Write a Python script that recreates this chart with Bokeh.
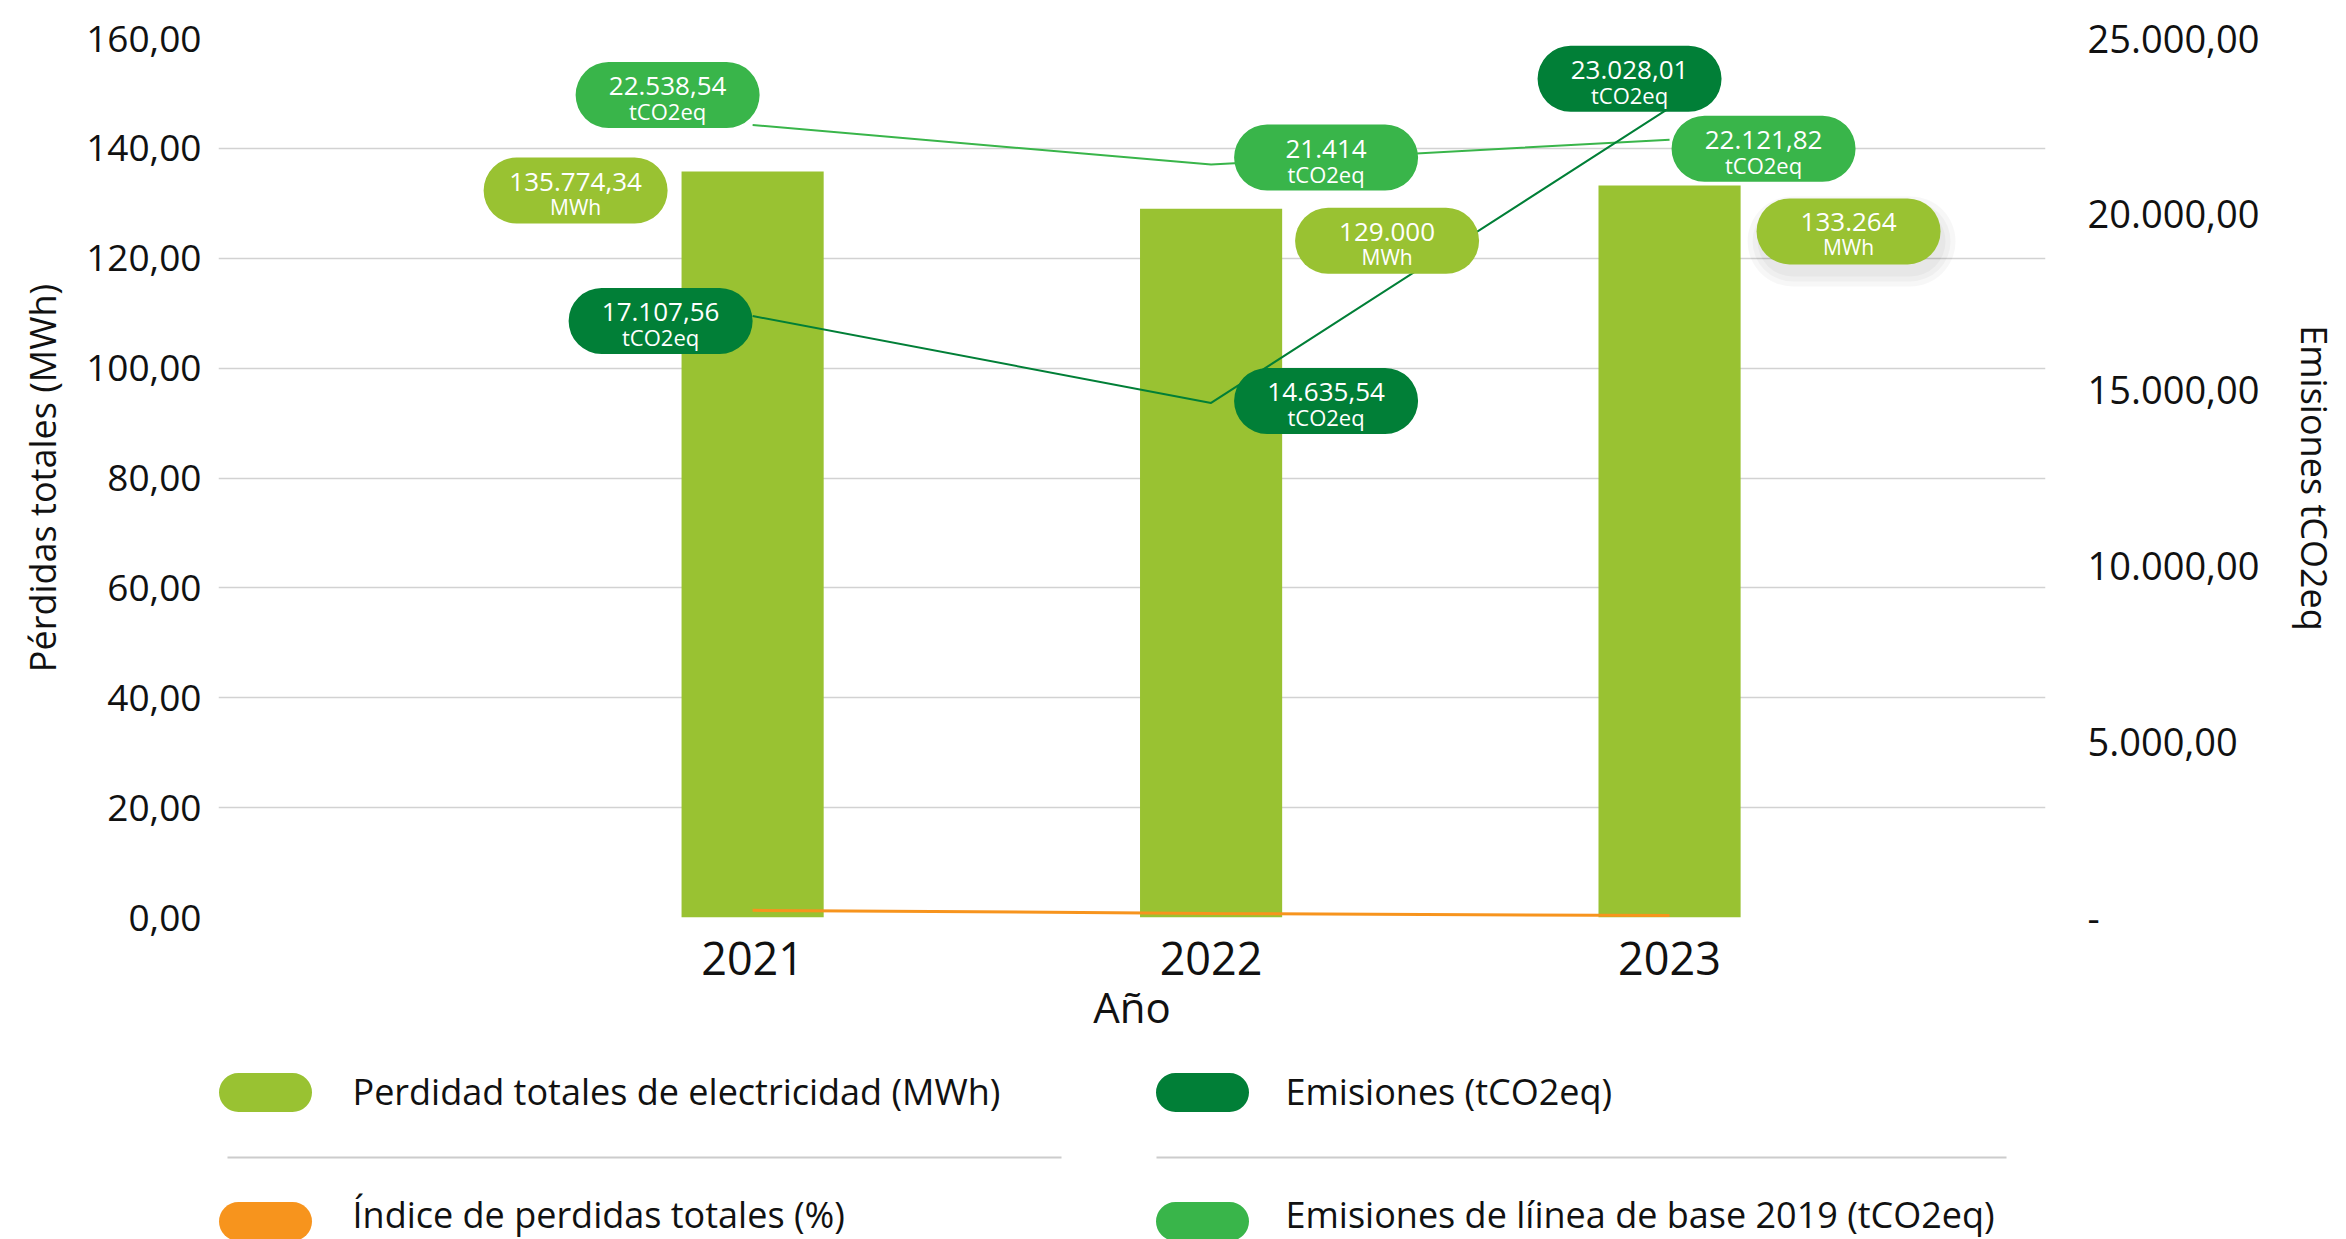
from bokeh.plotting import figure
from bokeh.models import Range1d, LinearAxis, FixedTicker
from bokeh.layouts import column
from bokeh.embed import file_html
from bokeh.resources import INLINE
from bokeh.core.properties import value

# ---------------- data ----------------
years = ["2021", "2022", "2023"]
perdidas_mwh = [135.77434, 129.000, 133.264]        # left axis (Pérdidas totales)
indice_pct = [1.3, 0.75, 0.35]                       # Índice de perdidas totales (%)
emisiones = [17107.56, 14635.54, 23028.01]           # right axis (tCO2eq)
emis_base_2019 = [22538.54, 21414.0, 22121.82]       # right axis (tCO2eq)

perdidas_labels = ["135.774,34", "129.000", "133.264"]
emisiones_labels = ["17.107,56", "14.635,54", "23.028,01"]
base_labels = ["22.538,54", "21.414", "22.121,82"]

left_ticks = [0, 20, 40, 60, 80, 100, 120, 140, 160]
left_tick_labels = ["0,00", "20,00", "40,00", "60,00", "80,00", "100,00", "120,00", "140,00", "160,00"]
right_ticks = [0, 5000, 10000, 15000, 20000, 25000]
right_tick_labels = ["-", "5.000,00", "10.000,00", "15.000,00", "20.000,00", "25.000,00"]

legend_labels = ["Perdidad totales de electricidad (MWh)", "Emisiones (tCO2eq)",
                 "Índice de perdidas totales (%)", "Emisiones de líinea de base 2019 (tCO2eq)"]

# ---------------- style ----------------
C_BAR = "#99c232"
C_EMIS = "#017f37"
C_BASE = "#39b54a"
C_IDX = "#f7941d"
C_GRID = "#d2d2d2"
C_TXT = "#111111"
FONT = "Open Sans"

FW, FH = 1827, 879
BL, BR, BT, BB = 218, 301, 38, 150
XMIN, XMAX = -1.165, 2.82
YMAX_L, YMAX_R = 160, 25000
px_x = FW / (XMAX - XMIN)
px_l = FH / YMAX_L
px_r = FH / YMAX_R

xs = list(range(len(years)))

p = figure(frame_width=FW, frame_height=FH,
           x_range=Range1d(XMIN, XMAX), y_range=Range1d(0, YMAX_L),
           output_backend="svg", toolbar_location=None,
           min_border_left=BL, min_border_right=BR, min_border_top=BT, min_border_bottom=BB)
p.extra_y_ranges = {"emis": Range1d(0, YMAX_R)}
p.outline_line_color = None
p.background_fill_color = "white"
p.border_fill_color = "white"

# grid
p.xgrid.visible = False
p.ygrid.ticker = FixedTicker(ticks=left_ticks)
p.ygrid.grid_line_color = C_GRID
p.ygrid.grid_line_width = 1.5

# left axis
yl = p.yaxis[0]
yl.ticker = FixedTicker(ticks=left_ticks)
yl.major_label_overrides = {t: s for t, s in zip(left_ticks, left_tick_labels)}
yl.axis_label = "Pérdidas totales (MWh)"

# bottom axis
xa = p.xaxis[0]
xa.ticker = FixedTicker(ticks=xs)
xa.major_label_overrides = {i: y for i, y in zip(xs, years)}
xa.axis_label = "Año"
xa.major_label_text_font_size = "45px"
xa.major_label_standoff = 18
xa.axis_label_text_font_size = "42px"
xa.axis_label_standoff = 0

# right axis
yr = LinearAxis(y_range_name="emis", ticker=FixedTicker(ticks=right_ticks),
                major_label_overrides={t: s for t, s in zip(right_ticks, right_tick_labels)},
                axis_label="Emisiones tCO2eq")
p.add_layout(yr, "right")

yl.major_label_text_font_size = "37px"
yr.major_label_text_font_size = "38px"
yl.axis_label_text_font_size = "36px"
yr.axis_label_text_font_size = "36px"
yl.major_label_standoff = 11
yl.axis_label_standoff = 16
yr.major_label_standoff = 36
yr.axis_label_standoff = 28

for ax in (yl, yr, xa):
    ax.axis_line_color = None
    ax.major_tick_line_color = None
    ax.minor_tick_line_color = None
    ax.major_label_text_font = FONT
    ax.axis_label_text_font = FONT
    ax.axis_label_text_font_style = "normal"
    ax.major_label_text_color = C_TXT
    ax.axis_label_text_color = C_TXT

# ---------------- marks ----------------
p.vbar(x=xs, top=perdidas_mwh, width=0.31, fill_color=C_BAR, line_color=None)
p.line(xs, indice_pct, line_color=C_IDX, line_width=3)
p.line(xs, emis_base_2019, y_range_name="emis", line_color=C_BASE, line_width=2)
p.line(xs, emisiones, y_range_name="emis", line_color=C_EMIS, line_width=2)


def pill(fig, cx, cy, w, h, color, sx, sy, yrn="default", alpha=1.0, flip=False):
    l = cx - w / 2 / sx
    r = cx + w / 2 / sx
    if flip:
        t = cy - h / 2 / sy
        b = cy + h / 2 / sy
    else:
        t = cy + h / 2 / sy
        b = cy - h / 2 / sy
    fig.quad(left=[l], right=[r], top=[t], bottom=[b], fill_color=color, fill_alpha=alpha,
             line_color=None, border_radius=int(round(h / 2)), y_range_name=yrn)


# label layout: pixel offsets of pill centre from the data point (screen px, y down)
PW, PH = 184, 66
bar_off = [(-177, 19), (176, 32), (179, 46)]
base_off = [(-85, -30), (115, -7), (94, 9)]
emis_off = [(-92, 5), (115, -2), (-40, -29)]

groups = [
    (perdidas_mwh, perdidas_labels, "MWh", bar_off, C_BAR, px_l, "default", "21px"),
    (emis_base_2019, base_labels, "tCO2eq", base_off, C_BASE, px_r, "emis", "22px"),
    (emisiones, emisiones_labels, "tCO2eq", emis_off, C_EMIS, px_r, "emis", "22px"),
]

# soft shadow under 2023 MWh label
v, (dx, dy) = perdidas_mwh[2], bar_off[2]
for k in range(3):
    pill(p, xs[2] + (dx + 3) / px_x, v - (dy + 10) / px_l, PW + 4 + 10 * k, PH + 4 + 10 * k,
         "#000000", px_x, px_l, alpha=0.03)

for vals, labs, unit, offs, col, py, yrn, usize in groups:
    for i, (v, lab, (dx, dy)) in enumerate(zip(vals, labs, offs)):
        pill(p, xs[i] + dx / px_x, v - dy / py, PW, PH, col, px_x, py, yrn)
        p.text(x=[xs[i]], y=[v], text=[lab], x_offset=dx, y_offset=dy - 9,
               text_align="center", text_baseline="alphabetic", text_color="white",
               text_font=value(FONT), text_font_size="26px", y_range_name=yrn)
        p.text(x=[xs[i]], y=[v], text=[unit], x_offset=dx, y_offset=dy + 16,
               text_align="center", text_baseline="alphabetic", text_color="white",
               text_font=value(FONT), text_font_size=usize, y_range_name=yrn)

# ---------------- legend (page-pixel coordinates; frame aligned with the chart frame) ----------------
q = figure(width=BL + FW + BR, height=172, x_range=Range1d(BL, BL + FW), y_range=Range1d(1239, 1067),
           output_backend="svg", toolbar_location=None, min_border=0,
           x_axis_location=None, y_axis_location=None)
q.grid.visible = False
q.outline_line_color = None

leg_colors = [C_BAR, C_EMIS, C_IDX, C_BASE]
leg_cx = [265, 1202, 265, 1202]
leg_cy = [1092, 1092, 1221, 1221]
leg_ty = [-1, -1, -7, -7]
leg_tx = [352, 1285, 352, 1285]
for c, cx, cy, tx, ty, lab in zip(leg_colors, leg_cx, leg_cy, leg_tx, leg_ty, legend_labels):
    pill(q, cx, cy, 93, 39, c, 1, 1, flip=True)
    q.text(x=[tx], y=[cy], text=[lab], y_offset=ty, text_align="left", text_baseline="alphabetic",
           text_color=C_TXT, text_font=value(FONT), text_font_size="36px")
q.segment(x0=[227, 1156], y0=[1157, 1157], x1=[1061, 2006], y1=[1157, 1157],
          line_color="#cccccc", line_width=2)

layout = column(p, q)
open("out.html", "w").write(file_html(layout, INLINE))
